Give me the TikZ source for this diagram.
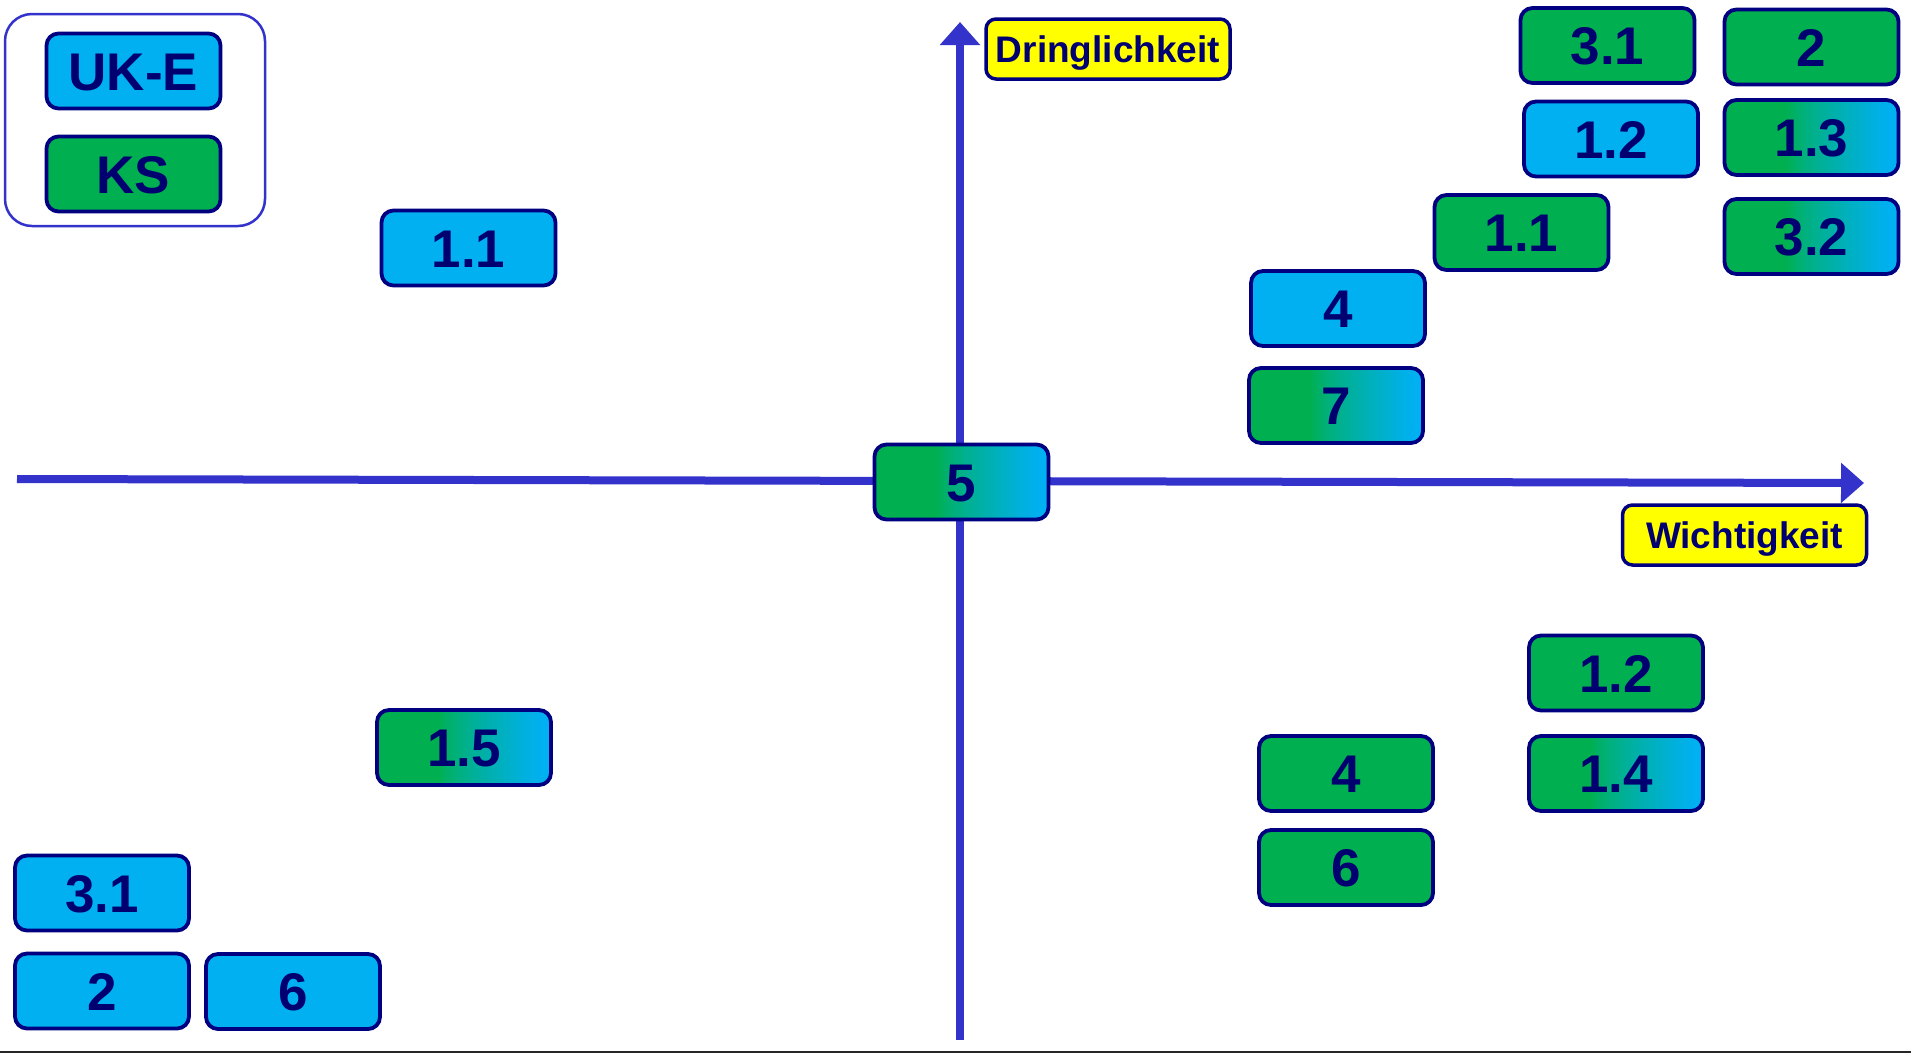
\documentclass[tikz,border=0pt]{standalone}
\usepackage{fontspec}
\setmainfont{Liberation Sans}
\usetikzlibrary{arrows.meta}
\definecolor{kcyan}{HTML}{00B0F0}
\definecolor{kgreen}{HTML}{00B050}
\definecolor{knavy}{HTML}{000080}
\definecolor{ktext}{HTML}{000070}
\definecolor{kaxis}{HTML}{3333CC}
\definecolor{kyellow}{HTML}{FFFF00}
\tikzset{
  card/.style={rectangle, rounded corners=12pt, draw=knavy, line width=3.8pt,
    minimum width=174pt, minimum height=75pt, inner sep=0pt, text=ktext,
    font=\bfseries\fontsize{53}{60}\selectfont, text height=38pt, text depth=0pt},
  ukcard/.style={card, fill=kcyan},
  kscard/.style={card, fill=kgreen},
  mixcard/.style={card},
  axislabel/.style={rectangle, rounded corners=10pt, draw=knavy, line width=3.5pt,
    fill=kyellow, minimum width=244pt, minimum height=60pt, inner sep=0pt, text=ktext,
    font=\bfseries\fontsize{37}{44}\selectfont, text height=27pt, text depth=0pt},
  axisline/.style={draw=kaxis, line width=8pt, -{Triangle[width=39pt,length=23pt]}},
  legendframe/.style={rectangle, rounded corners=27pt, draw=kaxis, line width=2.5pt,
    minimum width=260pt, minimum height=212pt, inner sep=0pt}
}
% gradient card: name, x, y, text
\newcommand{\mixbox}[4]{%
  \begin{scope}
    \clip[rounded corners=12pt] ({#2-87},{#3-37.5}) rectangle ({#2+87},{#3+37.5});
    \fill[kcyan] ({#2-88},{#3-38}) rectangle ({#2+88},{#3+38});
    \fill[kgreen] ({#2-88},{#3-38}) rectangle ({#2-87+174*0.36},{#3+38});
    \foreach \i in {0,...,29} {
      \pgfmathsetmacro\pc{100*((\i+0.5)/30)^0.75}
      \pgfmathsetmacro\ta{#2-87+174*(0.36+0.58*\i/30)}
      \pgfmathsetmacro\tb{#2-87+174*(0.36+0.58*(\i+1.3)/30)}
      \fill[kcyan!\pc!kgreen] (\ta,{#3-38}) rectangle (\tb,{#3+38});
    }
  \end{scope}
  \node[mixcard] (#1) at (#2,#3) {#4};
}
\begin{document}
\begin{tikzpicture}[x=1pt,y=-1pt]
\useasboundingbox (0,0) rectangle (1911,1053);
% legend
\node[legendframe] (legend) at (135,120) {};
\node[ukcard] (legUK) at (133.5,71) {UK-E};
\node[kscard] (legKS) at (133.5,174) {KS};
% axes
\coordinate (hstart) at (17,479);
\coordinate (hend) at (1864,483);
\coordinate (vstart) at (960,1040);
\coordinate (vend) at (960,22);
\draw[axisline] (hstart) -- (hend);
\draw[axisline] (vstart) -- (vend);
\mixbox{m5}{961.5}{482}{5}
% axis labels
\node[axislabel] (dring) at (1108,49) {Dringlichkeit};
\node[axislabel] (wicht) at (1744.5,535) {Wichtigkeit};
% top right
\node[kscard] (g31) at (1607.5,45.5) {3.1};
\node[kscard] (g2) at (1811.5,47) {2};
\node[ukcard] (c12) at (1611,139) {1.2};
\mixbox{m13}{1811.5}{137.5}{1.3}
\node[kscard] (g11) at (1521.5,232.5) {1.1};
\mixbox{m32}{1811.5}{236.5}{3.2}
\node[ukcard] (c4) at (1338,308.5) {4};
\mixbox{m7}{1336}{405.5}{7}
% bottom right
\node[kscard] (g12b) at (1616,673) {1.2};
\mixbox{m14}{1616}{773.5}{1.4}
\node[kscard] (g4b) at (1346,773.5) {4};
\node[kscard] (g6b) at (1346,867.5) {6};
% left
\node[ukcard] (c11) at (468.5,248) {1.1};
\mixbox{m15}{464}{747.5}{1.5}
\node[ukcard] (c31) at (102,893) {3.1};
\node[ukcard] (c2) at (102,991) {2};
\node[ukcard] (c6) at (293,991.5) {6};
% bottom rule
\coordinate (bl) at (0,1051.5);
\coordinate (br) at (1911,1051.5);
\draw[line width=2pt, black!85] (bl) -- (br);
\end{tikzpicture}
\end{document}
